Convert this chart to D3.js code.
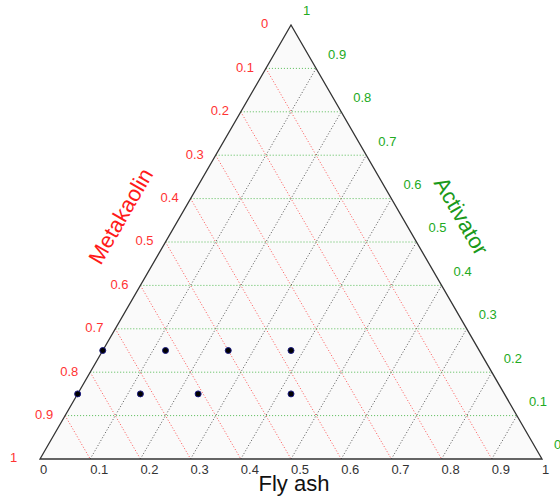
<!DOCTYPE html>
<html lang="en">
<head>
    <meta charset="UTF-8">
    <title>Ternary plot</title>
    <script src="https://d3js.org/d3.v7.min.js"></script>
    <style>
        body {
            margin: 0;
            padding: 0;
            background-color: #fff;
        }
        svg text {
            font-family: Arial, "Liberation Sans", sans-serif;
        }
    </style>
</head>
<body>
    <svg id="chart" width="560" height="497"></svg>

    <script>
        // Data: fractions of each component for the mixes
        var flyAsh     = [0, 0.125, 0.25, 0.375, 0, 0.125, 0.24, 0.425];
        var metakaolin = [0.75, 0.625, 0.5, 0.375, 0.85, 0.725, 0.61, 0.425];
        var activator  = [0.25, 0.25, 0.25, 0.25, 0.15, 0.15, 0.15, 0.15];

        var tickValues = [0, 0.1, 0.2, 0.3, 0.4, 0.5, 0.6, 0.7, 0.8, 0.9, 1];
        var gridValues = [0.1, 0.2, 0.3, 0.4, 0.5, 0.6, 0.7, 0.8, 0.9];

        var svg = d3.select("#chart");

        // Scales: horizontal position and height of the triangle
        var x = d3.scaleLinear().domain([0, 1]).range([40, 542]);
        var y = d3.scaleLinear().domain([0, 1]).range([459, 25]);
        var fmt = d3.format("~g");

        // project (fly ash, activator) onto the plane
        function px(f, a) { return x(f + a / 2); }
        function py(f, a) { return y(a); }

        // Triangle background
        var corners = [[0, 0], [1, 0], [0, 1]];
        svg.append("polygon")
            .attr("points", corners.map(function(c) { return px(c[0], c[1]) + "," + py(c[0], c[1]); }).join(" "))
            .attr("fill", "#fafafa")
            .attr("stroke", "none");

        var grid = svg.append("g").attr("fill", "none").attr("stroke-width", 1).attr("stroke-dasharray", "1,2");

        // constant metakaolin (red)
        grid.selectAll(".gm").data(gridValues).enter().append("line")
            .attr("x1", function(t) { return px(0, 1 - t); })
            .attr("y1", function(t) { return py(0, 1 - t); })
            .attr("x2", function(t) { return px(1 - t, 0); })
            .attr("y2", function(t) { return py(1 - t, 0); })
            .attr("stroke", "#ff5555");

        // constant fly ash (black)
        grid.selectAll(".gf").data(gridValues).enter().append("line")
            .attr("x1", function(t) { return px(t, 0); })
            .attr("y1", function(t) { return py(t, 0); })
            .attr("x2", function(t) { return px(t, 1 - t); })
            .attr("y2", function(t) { return py(t, 1 - t); })
            .attr("stroke", "#555");

        // constant activator (green)
        grid.selectAll(".ga").data(gridValues).enter().append("line")
            .attr("x1", function(t) { return px(0, t); })
            .attr("y1", function(t) { return py(0, t); })
            .attr("x2", function(t) { return px(1 - t, t); })
            .attr("y2", function(t) { return py(1 - t, t); })
            .attr("stroke", "#55bb55");

        // Triangle outline
        svg.append("polygon")
            .attr("points", corners.map(function(c) { return px(c[0], c[1]) + "," + py(c[0], c[1]); }).join(" "))
            .attr("fill", "none")
            .attr("stroke", "#333")
            .attr("stroke-width", 1.3);

        // Bottom labels (fly ash)
        svg.append("g").selectAll("text").data(tickValues).enter().append("text")
            .attr("x", function(t) { return px(t, 0); })
            .attr("y", function(t) { return py(t, 0) + 12; })
            .attr("dominant-baseline", "middle")
            .attr("font-size", 13)
            .attr("fill", "#333")
            .text(fmt);

        // Left labels (metakaolin)
        svg.append("g").selectAll("text").data(tickValues).enter().append("text")
            .attr("x", function(t) { return px(0, 1 - t) - 30; })
            .attr("y", function(t) { return py(0, 1 - t); })
            .attr("dominant-baseline", "middle")
            .attr("font-size", 13)
            .attr("fill", "#ff3333")
            .text(fmt);

        // Right labels (activator)
        svg.append("g").selectAll("text").data(tickValues).enter().append("text")
            .attr("x", function(t) { return px(1 - t, t) + 12; })
            .attr("y", function(t) { return py(1 - t, t) - 13; })
            .attr("dominant-baseline", "middle")
            .attr("font-size", 13)
            .attr("fill", "#22aa22")
            .text(fmt);

        // Axis titles
        var midL = [px(0, 0.5), py(0, 0.5)];
        var midR = [px(0.5, 0.5), py(0.5, 0.5)];
        svg.append("text")
            .attr("transform", "translate(" + (midL[0] - 0.866 * 50) + "," + (midL[1] - 0.5 * 50) + ") rotate(-60)")
            .attr("text-anchor", "middle")
            .attr("dominant-baseline", "middle")
            .attr("font-size", 22)
            .attr("fill", "#ff1a1a")
            .text("Metakaolin");

        svg.append("text")
            .attr("transform", "translate(" + (midR[0] + 0.866 * 50) + "," + (midR[1] - 0.5 * 50) + ") rotate(60)")
            .attr("text-anchor", "middle")
            .attr("dominant-baseline", "middle")
            .attr("font-size", 22)
            .attr("fill", "#1a991a")
            .text("Activator");

        svg.append("text")
            .attr("x", px(0.5, 0) + 3)
            .attr("y", 491)
            .attr("text-anchor", "middle")
            .attr("font-size", 22)
            .attr("fill", "#111")
            .text("Fly ash");

        // Data points
        svg.append("g").selectAll("circle").data(flyAsh).enter().append("circle")
            .attr("cx", function(f, i) { return px(f, activator[i]); })
            .attr("cy", function(f, i) { return py(f, activator[i]); })
            .attr("r", 3)
            .attr("fill", "#000")
            .attr("stroke", "#1a1a80")
            .attr("stroke-width", 1);
    </script>
</body>
</html>
